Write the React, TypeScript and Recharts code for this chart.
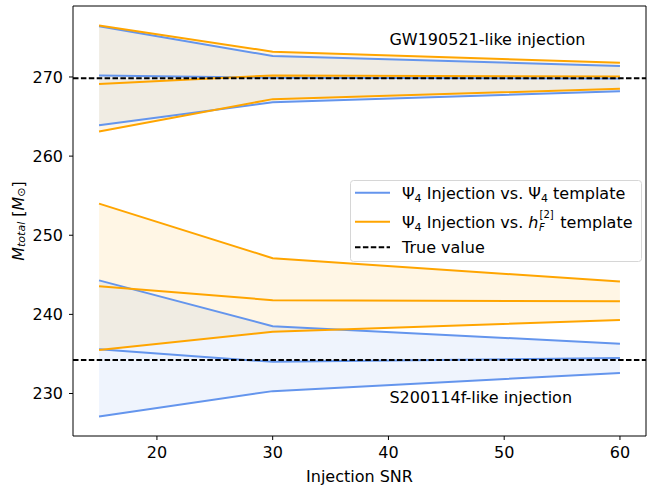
import React from 'react';
import {
  ComposedChart,
  Area,
  Line,
  XAxis,
  YAxis,
  ReferenceLine,
  ReferenceDot,
  Legend,
} from 'recharts';

// injection SNR values
const snr = [15, 30, 60];

// GW190521-like injection (upper, median, lower of M_total)
const gwBlueUpper = [276.4, 272.65, 271.4];
const gwBlueMedian = [270.2, 269.9, 269.8];
const gwBlueLower = [263.9, 266.8, 268.2];
const gwOrangeUpper = [276.5, 273.2, 271.8];
const gwOrangeMedian = [269.1, 270.2, 270.05];
const gwOrangeLower = [263.1, 267.2, 268.5];

// S200114f-like injection
const sBlueUpper = [244.3, 238.5, 236.3];
const sBlueMedian = [235.6, 234.0, 234.5];
const sBlueLower = [227.1, 230.3, 232.6];
const sOrangeUpper = [254.0, 247.1, 244.15];
const sOrangeMedian = [243.55, 241.8, 241.65];
const sOrangeLower = [235.5, 237.8, 239.3];

const trueValues = [269.85, 234.25];

const xTicks = [20, 30, 40, 50, 60];
const yTicks = [230, 240, 250, 260, 270];

const BLUE = '#6495ED';
const ORANGE = '#FFA500';
const FONT = '"DejaVu Sans", sans-serif';
const FS = 16;

const X_DOMAIN: [number, number] = [12.75, 62.25];
const Y_DOMAIN: [number, number] = [224.63, 278.97];

const data = snr.map((x, i) => ({
  snr: x,
  gwBlueBand: [gwBlueLower[i], gwBlueUpper[i]],
  gwOrangeBand: [gwOrangeLower[i], gwOrangeUpper[i]],
  sBlueBand: [sBlueLower[i], sBlueUpper[i]],
  sOrangeBand: [sOrangeLower[i], sOrangeUpper[i]],
  gwBlueUpper: gwBlueUpper[i],
  gwBlueMedian: gwBlueMedian[i],
  gwBlueLower: gwBlueLower[i],
  gwOrangeUpper: gwOrangeUpper[i],
  gwOrangeMedian: gwOrangeMedian[i],
  gwOrangeLower: gwOrangeLower[i],
  sBlueUpper: sBlueUpper[i],
  sBlueMedian: sBlueMedian[i],
  sBlueLower: sBlueLower[i],
  sOrangeUpper: sOrangeUpper[i],
  sOrangeMedian: sOrangeMedian[i],
  sOrangeLower: sOrangeLower[i],
}));

const blueKeys = ['gwBlueUpper', 'gwBlueMedian', 'gwBlueLower', 'sBlueUpper', 'sBlueMedian', 'sBlueLower'];
const orangeKeys = ['gwOrangeUpper', 'gwOrangeMedian', 'gwOrangeLower', 'sOrangeUpper', 'sOrangeMedian', 'sOrangeLower'];

const YLabel = (props: any) => {
  const vb = props.viewBox || { y: 6, height: 430 };
  const cx = 18;
  const cy = vb.y + vb.height / 2;
  return (
    <text
      x={cx}
      y={cy}
      transform={`rotate(-90 ${cx} ${cy})`}
      textAnchor="middle"
      dominantBaseline="central"
      fontFamily={FONT}
      fontSize={FS}
      fill="#000"
    >
      <tspan fontStyle="italic">M</tspan>
      <tspan fontStyle="italic" fontSize={11} dy={3}>total</tspan>
      <tspan dy={-3}> [</tspan>
      <tspan fontStyle="italic">M</tspan>
      <tspan fontSize={11} dy={3}>⊙</tspan>
      <tspan dy={-3}>]</tspan>
    </text>
  );
};

const noteLabel = (text: string) => (props: any) => {
  const vb = props.viewBox || { x: 0, y: 0 };
  return (
    <text x={vb.x + 1} y={vb.y} textAnchor="start" fontFamily={FONT} fontSize={FS} fill="#000">
      {text}
    </text>
  );
};

// legend drawn as svg so the math text can be placed exactly
const LegendBox = () => (
  <svg width={292} height={82} style={{ display: 'block' }}>
    <rect x={0.5} y={0.5} width={291} height={81} rx={3} fill="#fff" fillOpacity={0.8} stroke="#d6d6d6" />
    <line x1={5} x2={40} y1={12.7} y2={12.7} stroke={BLUE} strokeWidth={2} />
    <line x1={5} x2={40} y1={41.7} y2={41.7} stroke={ORANGE} strokeWidth={2} />
    <line x1={5} x2={40} y1={67.3} y2={67.3} stroke="#000" strokeWidth={2} strokeDasharray="5.5 2.4" />
    <g fontFamily={FONT} fontSize={FS} fill="#000">
      <text x={52} y={18.5}>
        Ψ<tspan fontSize={11} dy={3}>4</tspan>
        <tspan dy={-3}> Injection vs. Ψ</tspan>
        <tspan fontSize={11} dy={3}>4</tspan>
        <tspan dy={-3}> template</tspan>
      </text>
      <text x={52} y={47.5}>
        Ψ<tspan fontSize={11} dy={3}>4</tspan>
        <tspan dy={-3}> Injection vs. </tspan>
        <tspan fontStyle="italic">h</tspan>
        <tspan fontSize={10} dx={1} dy={-10}>[2]</tspan>
        <tspan fontSize={10} fontStyle="italic" dx={-14.7} dy={13.5}>F</tspan>
        <tspan dx={10.5} dy={-3.5}> template</tspan>
      </text>
      <text x={52} y={73.1}>True value</text>
    </g>
  </svg>
);

export default function App() {
  return (
    <div style={{ position: 'absolute', left: 0, top: 0, fontFamily: FONT, background: '#fff' }}>
      <ComposedChart
        width={647}
        height={487}
        data={data}
        margin={{ top: 6, right: 1, bottom: 0, left: 0 }}
        style={{ fontFamily: FONT }}
      >
        <XAxis
          dataKey="snr"
          type="number"
          domain={X_DOMAIN}
          ticks={xTicks}
          allowDataOverflow
          height={51}
          stroke="#000"
          tickSize={4}
          tickMargin={7}
          tick={{ fill: '#000', fontSize: FS, fontFamily: FONT }}
          label={{
            value: 'Injection SNR',
            position: 'insideBottom',
            offset: 5,
            fill: '#000',
            fontSize: FS,
            fontFamily: FONT,
          }}
        />
        <YAxis
          type="number"
          domain={Y_DOMAIN}
          ticks={yTicks}
          allowDataOverflow
          width={73}
          stroke="#000"
          tickSize={4}
          tickMargin={6}
          tick={{ fill: '#000', fontSize: FS, fontFamily: FONT }}
          label={<YLabel />}
        />

        {/* shaded credible bands */}
        <Area dataKey="gwBlueBand" type="linear" stroke="none" fill={BLUE} fillOpacity={0.1} isAnimationActive={false} activeDot={false} />
        <Area dataKey="gwOrangeBand" type="linear" stroke="none" fill={ORANGE} fillOpacity={0.1} isAnimationActive={false} activeDot={false} />
        <Area dataKey="sBlueBand" type="linear" stroke="none" fill={BLUE} fillOpacity={0.1} isAnimationActive={false} activeDot={false} />
        <Area dataKey="sOrangeBand" type="linear" stroke="none" fill={ORANGE} fillOpacity={0.1} isAnimationActive={false} activeDot={false} />

        {blueKeys.map((k) => (
          <Line key={k} dataKey={k} type="linear" stroke={BLUE} strokeWidth={2} dot={false} activeDot={false} isAnimationActive={false} />
        ))}
        {orangeKeys.map((k) => (
          <Line key={k} dataKey={k} type="linear" stroke={ORANGE} strokeWidth={2} dot={false} activeDot={false} isAnimationActive={false} />
        ))}

        {trueValues.map((v) => (
          <ReferenceLine key={v} y={v} stroke="#000" strokeWidth={2} strokeDasharray="5.5 2.4" />
        ))}

        {/* top and right spines */}
        <ReferenceLine y={Y_DOMAIN[1]} stroke="#000" strokeWidth={1} />
        <ReferenceLine x={X_DOMAIN[1]} stroke="#000" strokeWidth={1} />

        <ReferenceDot x={40} y={274.0} r={0} fill="none" stroke="none" label={noteLabel('GW190521-like injection')} />
        <ReferenceDot x={40} y={228.8} r={0} fill="none" stroke="none" label={noteLabel('S200114f-like injection')} />

        <Legend
          layout="vertical"
          align="center"
          verticalAlign="middle"
          content={() => <LegendBox />}
          wrapperStyle={{ position: 'absolute', left: 350, top: 180, width: 292, height: 82 }}
        />
      </ComposedChart>
    </div>
  );
}
